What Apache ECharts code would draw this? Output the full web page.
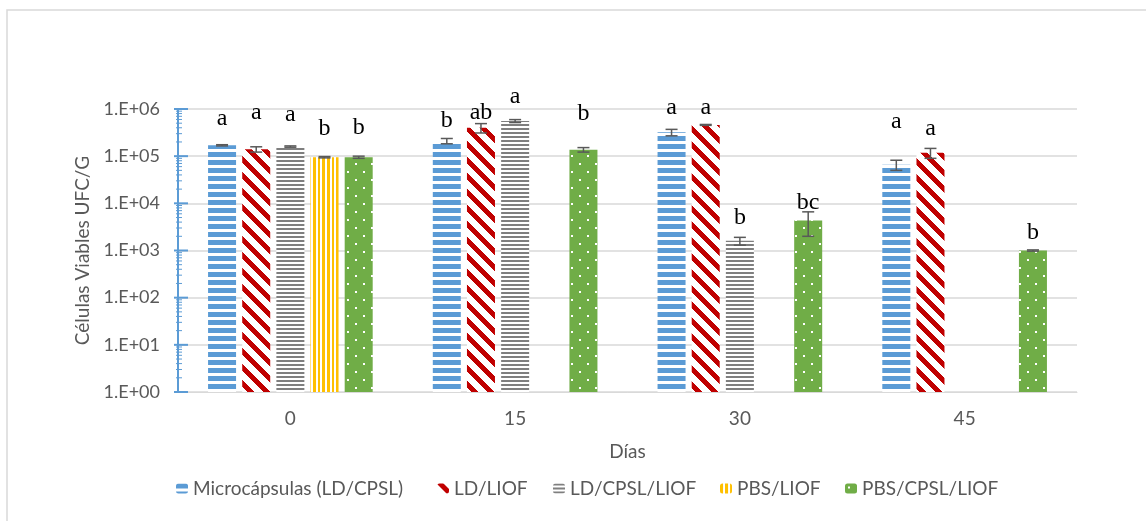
<!DOCTYPE html>
<html><head><meta charset="utf-8">
<script src="https://cdn.jsdelivr.net/npm/echarts@6/dist/echarts.min.js"></script>
<style>html,body{margin:0;padding:0;background:#fff}#c{width:1146px;height:521px}</style>
</head><body><div id="c"></div>
<script>
// ---------- data ----------
const days = ['0', '15', '30', '45'];
const seriesNames = ['Microcápsulas (LD/CPSL)', 'LD/LIOF', 'LD/CPSL/LIOF', 'PBS/LIOF', 'PBS/CPSL/LIOF'];
const microcapsulas = [1.7e5, 2.1e5, 3.2e5, 6.6e4];
const ldLiof = [1.4e5, 4.0e5, 4.6e5, 1.18e5];
const ldCpslLiof = [1.6e5, 5.56e5, 1.6e3, null];
const pbsLiof = [9.5e4, null, null, null];
const pbsCpslLiof = [9.5e4, 1.37e5, 4.3e3, 1.0e3];
const microcapsulasErr = [5e3, 2.7e4, 5e4, 1.6e4];
const ldLiofErr = [1.8e4, 9e4, 1e4, 2.8e4];
const ldCpslLiofErr = [5e3, 4e4, 3e2, null];
const pbsLiofErr = [3e3, null, null, null];
const pbsCpslLiofErr = [5e3, 1.5e4, 2.3e3, 30];
const microcapsulasLetters = ['a', 'b', 'a', 'a'];
const ldLiofLetters = ['a', 'ab', 'a', 'a'];
const ldCpslLiofLetters = ['a', 'a', 'b', ''];
const pbsLiofLetters = ['b', '', '', ''];
const pbsCpslLiofLetters = ['b', 'b', 'bc', 'b'];
const yTickLabels = ['1.E+00', '1.E+01', '1.E+02', '1.E+03', '1.E+04', '1.E+05', '1.E+06'];

// ---------- styles ----------
const letterLift = [
  [26, 18, 22, 39],
  [34, 11, 17, 20],
  [31, 23, 20, 0],
  [28, 0, 0, 0],
  [28, 34, 9, 17]
];
const legendLeft = [176, 437, 553, 720, 845];
const FONT = 'Lato';
const TXT = '#595959';

function tile(w, h, draw) {
  const c = document.createElement('canvas');
  c.width = w; c.height = h;
  const g = c.getContext('2d');
  g.fillStyle = '#fff'; g.fillRect(0, 0, w, h);
  draw(g);
  return { image: c, repeat: 'repeat' };
}
const patBlue = tile(4, 8, g => { g.fillStyle = '#5B9BD5'; g.fillRect(0, 0, 4, 5); });
const patRed = tile(16, 16, g => {
  g.fillStyle = '#C00000';
  for (let y = 0; y < 16; y++) for (let x = 0; x < 16; x++) {
    if ((((x - y) % 16) + 16) % 16 < 7) g.fillRect(x, y, 1, 1);
  }
});
const patGrey = tile(4, 4, g => { g.fillStyle = '#7F7F7F'; g.fillRect(0, 0, 4, 2); });
const patYellow = tile(14, 4, g => {
  g.fillStyle = '#FFC000';
  g.fillRect(0, 0, 3, 4); g.fillRect(5, 0, 3, 4); g.fillRect(10, 0, 2, 4);
});
const patGreen = tile(16, 16, g => {
  g.fillStyle = '#70AD47'; g.fillRect(0, 0, 16, 16);
  g.fillStyle = '#fff'; g.fillRect(3, 3, 2, 2); g.fillRect(11, 11, 2, 2);
});

const values = [microcapsulas, ldLiof, ldCpslLiof, pbsLiof, pbsCpslLiof];
const errors = [microcapsulasErr, ldLiofErr, ldCpslLiofErr, pbsLiofErr, pbsCpslLiofErr];
const letters = [microcapsulasLetters, ldLiofLetters, ldCpslLiofLetters, pbsLiofLetters, pbsCpslLiofLetters];
const patterns = [patBlue, patRed, patGrey, patYellow, patGreen];

const BAR_W = 28, BAR_GAP = 0.22;
const STEP = BAR_W * (1 + BAR_GAP);

const series = [];
values.forEach((vals, i) => {
  series.push({
    type: 'bar', name: seriesNames[i], data: vals.map(v => v == null ? '-' : v),
    barWidth: BAR_W, barGap: (BAR_GAP * 100) + '%',
    itemStyle: { color: patterns[i] }, silent: true, z: 2
  });
});
values.forEach((vals, i) => {
  const data = [];
  vals.forEach((v, k) => { if (v != null) data.push([k, v, errors[i][k]]); });
  series.push({
    type: 'custom', name: 'err' + i, silent: true, z: 5, clip: false,
    data, encode: { x: 0, y: 1 },
    renderItem: (params, api) => {
      const k = api.value(0), v = api.value(1), e = api.value(2);
      const off = (i - 2) * STEP;
      const t = api.coord([k, v + e]);
      const b = api.coord([k, Math.max(v - e, 1)]);
      const x = t[0] + off;
      const ls = { stroke: '#595959', lineWidth: 1.5 };
      const children = [
        { type: 'line', shape: { x1: x, y1: t[1], x2: x, y2: b[1] }, style: ls },
        { type: 'line', shape: { x1: x - 6, y1: t[1], x2: x + 6, y2: t[1] }, style: ls },
        { type: 'line', shape: { x1: x - 6, y1: b[1], x2: x + 6, y2: b[1] }, style: ls }
      ];
      const L = letters[i][k];
      if (L) children.push({
        type: 'text',
        style: { text: L, x: x, y: t[1] - letterLift[i][k], align: 'center', verticalAlign: 'middle',
                 fontSize: 24, fontFamily: 'Liberation Serif', fill: '#000' }
      });
      return { type: 'group', children };
    }
  });
});
// axis ticks (major crossing + log minor ticks)
const majorTicks = [1, 10, 100, 1000, 1e4, 1e5, 1e6];
const minorTicks = [];
for (let d = 0; d < 6; d++) for (let m = 2; m <= 9; m++) minorTicks.push(m * Math.pow(10, d));
series.push({
  type: 'custom', name: 'ticks', silent: true, z: 6, clip: false,
  data: majorTicks.map(v => [0, v, 1]).concat(minorTicks.map(v => [0, v, 0])),
  encode: { x: 0, y: 1 },
  renderItem: (params, api) => {
    const p = api.coord([0, api.value(1)]);
    const x0 = params.coordSys.x;
    const major = api.value(2) === 1;
    return {
      type: 'line',
      shape: { x1: x0 - (major ? 4 : 2), y1: p[1], x2: x0 + (major ? 10 : 4), y2: p[1] },
      style: { stroke: '#5B9BD5', lineWidth: major ? 2 : 1 }
    };
  }
});

const legends = seriesNames.map((n, i) => ({
  data: [n], top: 479, left: legendLeft[i], padding: 0, itemWidth: 12, itemHeight: 10,
  textStyle: { color: TXT, fontSize: 19, fontFamily: FONT }, selectedMode: false
}));

const chart = echarts.init(document.getElementById('c'), null, { renderer: 'canvas' });
chart.setOption({
  animation: false,
  backgroundColor: '#fff',
  textStyle: { fontFamily: FONT },
  graphic: [{
    type: 'rect', shape: { x: 7, y: 10, width: 1300, height: 700 },
    style: { fill: 'none', stroke: '#D9D9D9', lineWidth: 1.5 }, silent: true, z: -10
  }],
  grid: { left: 178, right: 69, top: 109, bottom: 129, containLabel: false },
  legend: legends,
  xAxis: {
    type: 'category', data: days,
    name: 'Días', nameLocation: 'middle', nameGap: 50,
    nameTextStyle: { color: TXT, fontSize: 19, fontFamily: FONT },
    axisLine: { show: true, lineStyle: { color: '#D9D9D9', width: 1 } },
    axisTick: { show: false },
    axisLabel: { color: TXT, fontSize: 19, margin: 17, fontFamily: FONT }
  },
  yAxis: {
    type: 'log', logBase: 10, min: 1, max: 1e6, splitNumber: 6,
    name: 'Células Viables UFC/G', nameLocation: 'middle', nameGap: 86,
    nameTextStyle: { color: TXT, fontSize: 19, fontFamily: FONT },
    axisLine: { show: true, lineStyle: { color: '#5B9BD5', width: 2 } },
    axisTick: { show: false },
    splitLine: { show: true, lineStyle: { color: '#D9D9D9', width: 1.5 } },
    axisLabel: {
      color: TXT, fontSize: 18, margin: 18, fontFamily: FONT,
      formatter: v => yTickLabels[Math.round(Math.log10(v))]
    }
  },
  series
});
</script></body></html>
